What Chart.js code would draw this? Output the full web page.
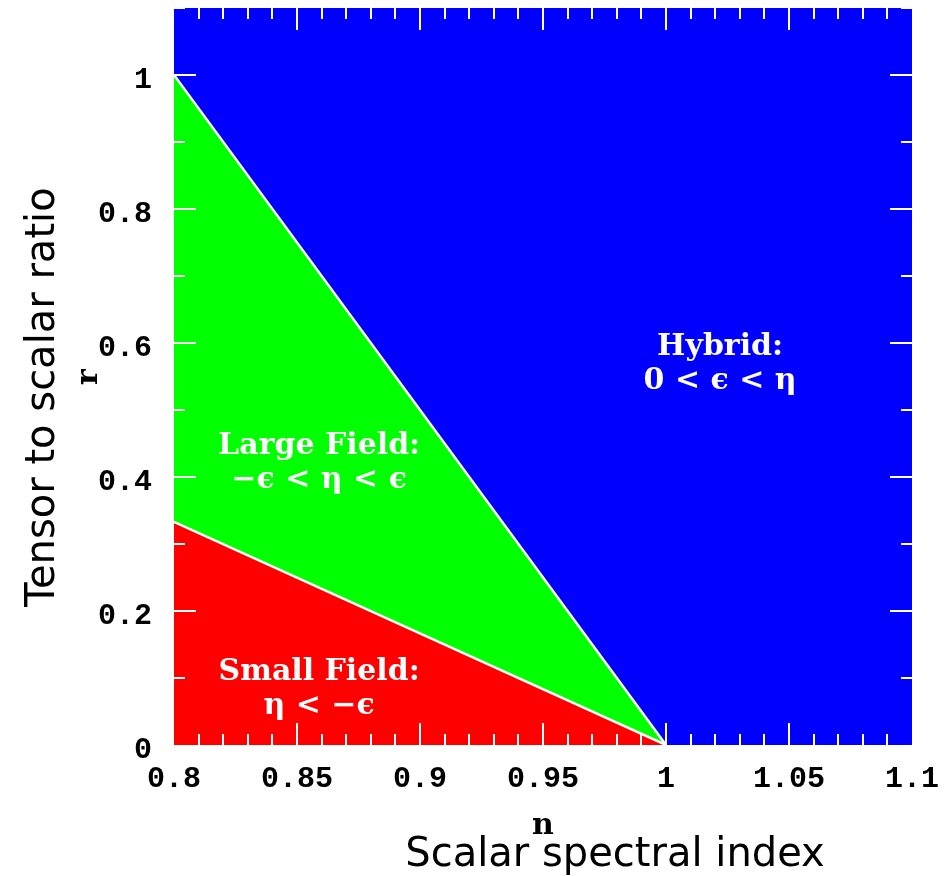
<!DOCTYPE html>
<html>
<head>
<meta charset="utf-8">
<script src="https://cdn.jsdelivr.net/npm/chart.js@4.4.1/dist/chart.umd.min.js"></script>
<style>
  html, body { margin: 0; padding: 0; background: #fff; }
</style>
</head>
<body>
<canvas id="chart" width="947" height="876"></canvas>
<script>
// axis ranges and tick labels
const xRange = [0.8, 1.1];
const yRange = [0, 1.1];
const xTickLabels = [0.8, 0.85, 0.9, 0.95, 1, 1.05, 1.1];
const yTickLabels = [0, 0.2, 0.4, 0.6, 0.8, 1];

// region boundaries (each is filled down to r = 0)
const hybridEdge = [{ x: 0.8, y: 1.1 }, { x: 1.1, y: 1.1 }];
const largeFieldEdge = [{ x: 0.8, y: 1 }, { x: 1, y: 0 }];
const smallFieldEdge = [{ x: 0.8, y: 0.333 }, { x: 1, y: 0 }];

// region labels: [line1, line2, x, y]
const regionLabels = [
  ["Hybrid:", "0 < \u03f5 < \u03b7", 1.022, 0.568],
  ["Large Field:", "\u2212\u03f5 < \u03b7 < \u03f5", 0.859, 0.42],
  ["Small Field:", "\u03b7 < \u2212\u03f5", 0.859, 0.083],
];

const xMinorStep = 0.01, xMajorStep = 0.05;
const yMinorStep = 0.1, yMajorStep = 0.2;

const tickFont = { family: "'Liberation Mono', 'DejaVu Sans Mono', monospace", weight: "bold", size: 30 };
const fmt = (v) => String(+Number(v).toFixed(2));

function noPad(s) {
  s.paddingTop = 0; s.paddingBottom = 0; s.paddingLeft = 0; s.paddingRight = 0;
}

// white tick marks on all four sides of the frame, pointing inwards
const frameTicks = {
  id: "frameTicks",
  afterDatasetsDraw(chart) {
    const { ctx, chartArea: a, scales: { x, y } } = chart;
    ctx.save();
    ctx.strokeStyle = "#fff";
    ctx.lineWidth = 2;
    ctx.beginPath();
    const nx = Math.round((xRange[1] - xRange[0]) / xMinorStep);
    for (let i = 1; i < nx; i++) {
      const v = xRange[0] + i * xMinorStep;
      const major = Math.abs(v / xMajorStep - Math.round(v / xMajorStep)) < 1e-6;
      const len = major ? 22 : 11;
      const px = Math.round(x.getPixelForValue(v));
      ctx.moveTo(px, a.top); ctx.lineTo(px, a.top + len);
      ctx.moveTo(px, a.bottom); ctx.lineTo(px, a.bottom - len);
    }
    const ny = Math.round((yRange[1] - yRange[0]) / yMinorStep);
    for (let i = 1; i <= ny; i++) {
      const v = yRange[0] + i * yMinorStep;
      const major = Math.abs(v / yMajorStep - Math.round(v / yMajorStep)) < 1e-6;
      const len = major ? 22 : 11;
      const py = Math.round(y.getPixelForValue(v));
      ctx.moveTo(a.left, py); ctx.lineTo(a.left + len, py);
      ctx.moveTo(a.right, py); ctx.lineTo(a.right - len, py);
    }
    ctx.stroke();
    ctx.restore();
  },
  afterDraw(chart) {
    const { ctx, scales: { x, y } } = chart;
    ctx.save();
    // region labels
    ctx.fillStyle = "#fff";
    ctx.textAlign = "center";
    ctx.textBaseline = "middle";
    ctx.font = "bold 30px 'DejaVu Serif', 'Liberation Serif', serif";
    regionLabels.forEach(([l1, l2, vx, vy]) => {
      const px = x.getPixelForValue(vx), py = y.getPixelForValue(vy);
      ctx.fillText(l1, px, py - 17);
      ctx.fillText(l2, px, py + 17);
    });

    // axis titles
    ctx.fillStyle = "#000";
    ctx.font = "bold 30px 'DejaVu Serif', 'Liberation Serif', serif";
    ctx.textBaseline = "alphabetic";
    ctx.fillText("n", 543, 834);
    ctx.save();
    ctx.translate(97, 377);
    ctx.rotate(-Math.PI / 2);
    ctx.fillText("r", 0, 0);
    ctx.restore();

    ctx.font = "40px 'DejaVu Sans', 'Noto Sans', sans-serif";
    ctx.fillText("Scalar spectral index", 615, 866);
    ctx.save();
    ctx.translate(54, 397);
    ctx.rotate(-Math.PI / 2);
    ctx.fillText("Tensor to scalar ratio", 0, 0);
    ctx.restore();
    ctx.restore();
  }
};

const ctx = document.getElementById("chart").getContext("2d");
new Chart(ctx, {
  type: "line",
  data: {
    datasets: [
      {
        label: "Small Field",
        data: smallFieldEdge,
        backgroundColor: "#ff0000",
        borderColor: "#ffffff",
        borderWidth: 2.5,
        fill: "origin",
        pointRadius: 0,
        order: 1,
      },
      {
        label: "Large Field",
        data: largeFieldEdge,
        backgroundColor: "#00ff00",
        borderColor: "#ffffff",
        borderWidth: 2.5,
        fill: "origin",
        pointRadius: 0,
        order: 2,
      },
      {
        label: "Hybrid",
        data: hybridEdge,
        backgroundColor: "#0000ff",
        borderColor: "#0000ff",
        borderWidth: 0,
        fill: "origin",
        pointRadius: 0,
        order: 3,
      },
    ],
  },
  options: {
    responsive: false,
    animation: false,
    layout: { padding: { top: 8, right: 35, left: 0, bottom: 0 } },
    plugins: { legend: { display: false }, tooltip: { enabled: false } },
    scales: {
      x: {
        type: "linear",
        min: xRange[0],
        max: xRange[1],
        grid: { display: false, drawTicks: false },
        border: { display: false },
        afterBuildTicks: (s) => { s.ticks = xTickLabels.map((v) => ({ value: v })); },
        afterFit: (s) => { s.height = 131; noPad(s); },
        ticks: { color: "#000", font: tickFont, padding: 16, maxRotation: 0, autoSkip: false, callback: fmt },
      },
      y: {
        type: "linear",
        min: yRange[0],
        max: yRange[1],
        grid: { display: false, drawTicks: false },
        border: { display: false },
        afterBuildTicks: (s) => { s.ticks = yTickLabels.map((v) => ({ value: v })); },
        afterFit: (s) => { s.width = 174; noPad(s); },
        ticks: { color: "#000", font: tickFont, padding: 22, labelOffset: 5, autoSkip: false, callback: fmt },
      },
    },
  },
  plugins: [frameTicks],
});
</script>
</body>
</html>
